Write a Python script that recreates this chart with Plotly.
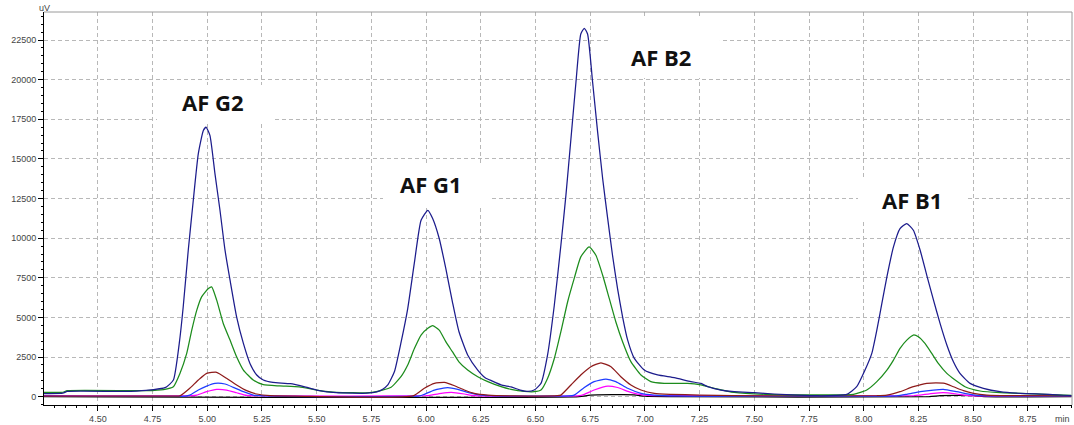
import plotly.graph_objects as go

# ---------------- data ----------------
navy_t = [4.25, 4.34, 4.36, 4.62, 4.72, 4.81, 4.845, 4.872, 4.89, 4.913, 4.936, 4.959, 4.982, 4.994,
          5.012, 5.035, 5.058, 5.081, 5.104, 5.134, 5.165, 5.195, 5.226, 5.256, 5.30, 5.38, 5.45, 5.50,
          5.59, 5.73, 5.775, 5.80, 5.825, 5.855, 5.886, 5.916, 5.947, 5.977, 6.008, 6.03, 6.06, 6.09,
          6.12, 6.15, 6.19, 6.236, 6.27, 6.30, 6.343, 6.388, 6.43, 6.465, 6.494, 6.525, 6.555, 6.586,
          6.616, 6.639, 6.662, 6.685, 6.707, 6.723, 6.738, 6.761, 6.784, 6.807, 6.83, 6.852, 6.875,
          6.898, 6.921, 6.951, 6.997, 7.058, 7.134, 7.21, 7.256, 7.287, 7.347, 7.408, 7.50, 7.591,
          7.70, 7.79, 7.87, 7.923, 7.968, 8.006, 8.037, 8.06, 8.083, 8.106, 8.136, 8.166, 8.197,
          8.227, 8.258, 8.288, 8.319, 8.349, 8.38, 8.41, 8.44, 8.486, 8.547, 8.623, 8.715, 8.85, 8.95]
navy_v = [200, 220, 330, 330, 400, 590, 1050, 3380, 5670, 9240, 12390, 15330, 16790, 17000,
          16480, 14070, 11760, 9240, 7350, 5040, 3360, 2100, 1370, 1050, 900, 820, 600, 420,
          250, 220, 300, 450, 740, 1570, 3460, 5560, 8500, 11130, 11760, 11240, 9980, 8090,
          6000, 4110, 2630, 1680, 1200, 1000, 740, 620, 420, 330, 420, 840, 2620, 5770,
          9550, 12700, 16270, 19850, 22880, 23240, 22880, 19850, 16690, 13750, 11230, 8920, 6820,
          5040, 3580, 2430, 1680, 1370, 1200, 950, 840, 630, 420, 315, 250, 170,
          100, 60, 80, 150, 630, 1680, 2730, 4200, 5880, 7560, 9450, 10600, 10920,
          10500, 9240, 7670, 6090, 4620, 3260, 2200, 1470, 840, 530, 315, 210, 150, 60]

green_t = [4.25, 4.34, 4.36, 4.72, 4.80, 4.845, 4.875, 4.906, 4.929, 4.952, 4.974, 5.005, 5.02, 5.043,
           5.073, 5.104, 5.134, 5.165, 5.21, 5.256, 5.33, 5.42, 5.50, 5.59, 5.74, 5.80, 5.84, 5.886,
           5.916, 5.947, 5.977, 6.008, 6.03, 6.06, 6.09, 6.12, 6.15, 6.19, 6.236, 6.282, 6.343, 6.388,
           6.45, 6.494, 6.525, 6.555, 6.586, 6.616, 6.647, 6.677, 6.707, 6.745, 6.776, 6.807, 6.837,
           6.867, 6.898, 6.936, 6.982, 7.027, 7.088, 7.195, 7.256, 7.317, 7.408, 7.55, 7.80, 7.953,
           8.014, 8.06, 8.106, 8.136, 8.166, 8.197, 8.227, 8.25, 8.28, 8.311, 8.341, 8.38, 8.418,
           8.463, 8.532, 8.623, 8.715, 8.85, 8.95]
green_v = [280, 280, 380, 380, 450, 630, 1470, 2730, 4200, 5460, 6300, 6830, 6930, 6090,
           4620, 3570, 2520, 1680, 1050, 760, 680, 620, 420, 270, 260, 420, 600, 1280,
           2000, 3050, 3890, 4310, 4480, 4200, 3470, 2840, 2200, 1680, 1260, 950, 630, 460,
           330, 315, 420, 1150, 2410, 4100, 5990, 7460, 8820, 9450, 8920, 7660, 6200,
           4730, 3470, 2210, 1370, 950, 840, 840, 740, 530, 270, 150, 120, 150,
           420, 950, 1680, 2310, 3050, 3570, 3890, 3780, 3360, 2730, 2100, 1470, 1050,
           630, 360, 250, 210, 130, 80]

red_t = [4.25, 4.85, 4.875, 4.92, 4.959, 4.997, 5.043, 5.088, 5.134, 5.18, 5.226, 5.287, 5.40, 5.94,
         5.992, 6.038, 6.084, 6.13, 6.175, 6.22, 6.282, 6.40, 6.60, 6.616, 6.662, 6.707, 6.753, 6.799,
         6.845, 6.89, 6.936, 6.982, 7.043, 7.119, 7.25, 7.40, 8.06, 8.106, 8.166, 8.227, 8.288, 8.33,
         8.37, 8.41, 8.456, 8.502, 8.563, 8.70, 8.95]
red_v = [30, 30, 50, 530, 1050, 1470, 1540, 1160, 740, 380, 170, 60, 40, 50,
         530, 840, 900, 690, 420, 210, 100, 50, 60, 100, 740, 1370, 1890, 2140,
         1890, 1260, 740, 420, 210, 150, 100, 60, 60, 100, 315, 630, 840, 870,
         840, 630, 380, 210, 100, 60, 50]

blue_t = [4.25, 4.90, 4.92, 4.959, 4.997, 5.035, 5.081, 5.119, 5.165, 5.21, 5.30, 5.97, 5.992, 6.038,
          6.099, 6.145, 6.19, 6.251, 6.35, 6.65, 6.677, 6.723, 6.768, 6.822, 6.867, 6.921, 6.982,
          7.043, 7.15, 8.15, 8.197, 8.258, 8.319, 8.364, 8.425, 8.486, 8.55, 8.95]
blue_v = [30, 40, 100, 420, 670, 840, 800, 590, 315, 100, 40, 50, 150, 420,
          570, 460, 270, 100, 40, 50, 100, 580, 950, 1110, 950, 530, 210,
          100, 50, 50, 150, 315, 420, 460, 315, 150, 60, 40]

magenta_t = [4.25, 4.93, 4.952, 4.997, 5.043, 5.088, 5.134, 5.18, 5.30, 6.00, 6.023, 6.069, 6.115,
             6.175, 6.22, 6.70, 6.723, 6.768, 6.83, 6.875, 6.936, 6.997, 7.10, 8.23, 8.258, 8.319,
             8.364, 8.425, 8.486, 8.95]
magenta_v = [60, 60, 100, 315, 460, 420, 250, 80, 50, 60, 100, 210, 270,
             170, 60, 60, 150, 420, 670, 580, 270, 100, 60, 60, 100, 210,
             250, 170, 60, 50]

black_t = [4.25, 6.70, 6.75, 6.95, 7.00, 7.10, 8.30, 8.35, 8.50, 8.55, 8.95]
black_v = [0, 0, 100, 120, 30, 0, 0, 60, 60, 0, 0]

peak_names = ["AF G2", "AF G1", "AF B2", "AF B1"]
label_t = [5.024, 6.02, 7.074, 8.221]
label_v = [18590, 13417, 21428, 12408]
# white paste-boxes behind labels: (t0, t1, v0, v1)
label_box = [(4.770, 5.296, 17330, 19660),
             (5.803, 6.301, 12090, 14740),
             (6.831, 7.343, 20100, 23890),
             (7.974, 8.463, 11080, 13800)]

x_tick_vals = [4.50, 4.75, 5.00, 5.25, 5.50, 5.75, 6.00, 6.25, 6.50, 6.75, 7.00, 7.25, 7.50, 7.75,
               8.00, 8.25, 8.50, 8.75]
y_tick_vals = [0, 2500, 5000, 7500, 10000, 12500, 15000, 17500, 20000, 22500]

# ---------------- figure ----------------
series = [
    (black_t, black_v, "#000000"),
    (magenta_t, magenta_v, "#ff00ff"),
    (blue_t, blue_v, "#1f3cff"),
    (red_t, red_v, "#8e1b1b"),
    (green_t, green_v, "#1c8c1c"),
    (navy_t, navy_v, "#1c1c8c"),
]

fig = go.Figure()
for t, v, c in series:
    fig.add_trace(go.Scatter(x=t, y=v, mode="lines",
                             line=dict(color=c, width=1.25, shape="spline", smoothing=0.5),
                             showlegend=False, hoverinfo="skip"))

for (t0, t1, v0, v1) in label_box:
    fig.add_shape(type="rect", xref="x", yref="y", x0=t0, x1=t1, y0=v0, y1=v1,
                  fillcolor="white", line=dict(width=0), layer="between")

for name, t, v in zip(peak_names, label_t, label_v):
    fig.add_annotation(x=t, y=v, xref="x", yref="y", text="<b>%s</b>" % name, showarrow=False,
                       font=dict(family="Open Sans", size=22, color="#111111"))

fig.add_annotation(x=0, y=1, xref="paper", yref="paper", text="uV", showarrow=False,
                   xanchor="center", yanchor="bottom", yshift=-3,
                   font=dict(family="Liberation Sans", size=9, color="#444"))
fig.add_annotation(x=0.991, y=0, xref="paper", yref="paper", text="min", showarrow=False,
                   xanchor="center", yanchor="top", yshift=-7,
                   font=dict(family="Liberation Sans", size=9, color="#444"))

# top and right frame
fig.add_shape(type="line", xref="paper", yref="paper", x0=0, x1=1, y0=1, y1=1,
              line=dict(color="#9a9a9a", width=1))
fig.add_shape(type="line", xref="paper", yref="paper", x0=1, x1=1, y0=0, y1=1,
              line=dict(color="#9a9a9a", width=1))

fig.update_xaxes(range=[4.2537, 8.952], tickvals=x_tick_vals,
                 ticktext=["%.2f" % v for v in x_tick_vals],
                 showgrid=True, gridcolor="#b8b8b8", griddash="4px,3px", gridwidth=1,
                 showline=True, linecolor="black", linewidth=1,
                 ticks="outside", ticklen=5, tickcolor="black", tickwidth=1,
                 minor=dict(dtick=0.05, tick0=4.5, ticks="outside", ticklen=2, tickcolor="black",
                            showgrid=False),
                 tickfont=dict(family="Liberation Sans", size=9, color="#444"),
                 zeroline=False)
fig.update_yaxes(range=[-524, 24266], tickvals=y_tick_vals,
                 ticktext=[str(v) for v in y_tick_vals],
                 showgrid=True, gridcolor="#b8b8b8", griddash="4px,3px", gridwidth=1,
                 showline=True, linecolor="black", linewidth=1,
                 ticks="outside", ticklen=5, tickcolor="black", tickwidth=1,
                 minor=dict(dtick=500, tick0=0, ticks="outside", ticklen=2, tickcolor="black",
                            showgrid=False),
                 tickfont=dict(family="Liberation Sans", size=9, color="#444"),
                 zeroline=False)

fig.update_layout(width=1074, height=425, margin=dict(l=44, r=2, t=12, b=20),
                  paper_bgcolor="white", plot_bgcolor="white")

fig.write_html("out.html")
